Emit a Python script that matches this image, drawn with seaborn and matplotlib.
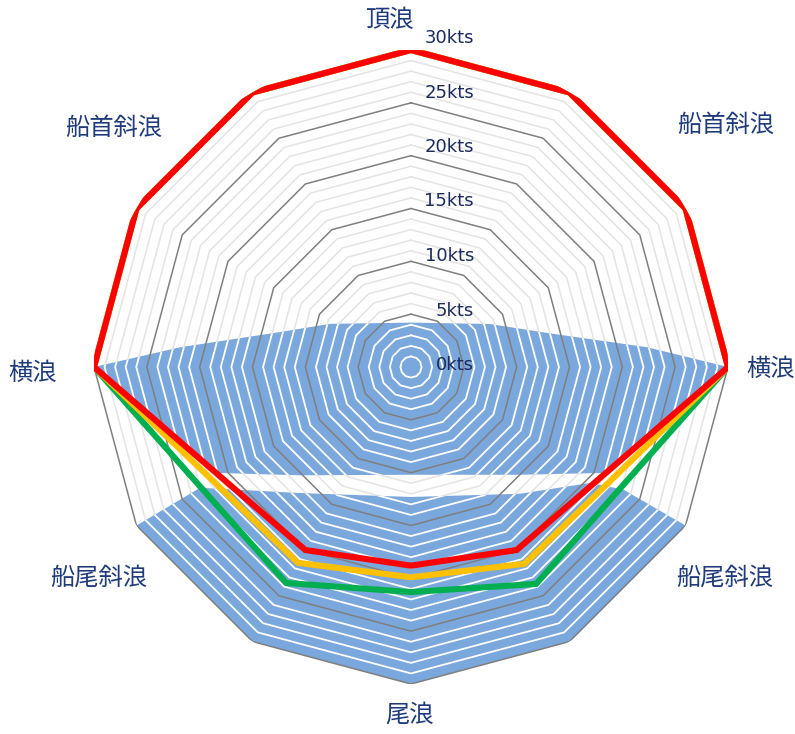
import numpy as np
import pandas as pd
import matplotlib
matplotlib.use("Agg")
import matplotlib.pyplot as plt
import seaborn as sns

# ---------------- data ----------------
angles_deg = [0, 30, 60, 90, 120, 150, 180, 210, 240, 270, 300, 330]
red_kts    = [30, 30, 30, 30, 20.8, 20.0, 18.8, 20.0, 20.8, 30, 30, 30]
yellow_kts = [30, 30, 30, 30, 21.7, 21.5, 19.9, 21.4, 21.6, 30, 30, 30]
green_kts  = [30, 30, 30, 30, 22.9, 23.7, 21.3, 23.6, 22.9, 30, 30, 30]

# zone boundaries (direction in degrees, speed in kts)
upper_zone_deg = [270, 274.9, 285.0, 298.0, 360, 61.4, 76.0, 85.2, 90, 118.5, 134.7, 180, 225.8, 241.5]
upper_zone_kts = [30, 21.9, 12.8, 8.7, 4.2, 8.5, 13.3, 22.4, 30, 21.0, 14.5, 10.2, 14.7, 21.0]
lower_zone_deg = [240, 210, 180, 150, 120, 120.0, 122.9, 139.4, 180, 221.4, 240.2]
lower_zone_kts = [30, 30, 30, 30, 30, 23.2, 20.2, 15.8, 12.3, 15.9, 23.0]

ring_kts = list(range(1, 31))
major_step = 5
tick_labels = ["0kts", "5kts", "10kts", "15kts", "20kts", "25kts", "30kts"]

dir_labels = ["頂浪", "船首斜浪", "横浪", "船尾斜浪", "尾浪", "船尾斜浪", "横浪", "船首斜浪"]

# ---------------- style ----------------
sns.set_style("white")
plt.rcParams['font.family'] = ['Noto Sans CJK JP', 'DejaVu Sans']

W, H = 795, 734
fig = plt.figure(figsize=(W / 100, H / 100), dpi=100)
cx, cy, R = 411, 367, 317
ax = fig.add_axes([(cx - R) / W, (H - cy - R) / H, 2 * R / W, 2 * R / H], projection='polar')
ax.set_theta_zero_location('N')
ax.set_theta_direction(-1)
ax.set_ylim(0, 30)
ax.grid(False)
ax.set_xticks([])
ax.set_yticks([])
ax.spines['polar'].set_visible(False)
ax.set_facecolor('none')

BLUE = '#7aa8dc'
ring_th = np.deg2rad(angles_deg + [360])

# minor rings (light grey on white)
minor = [k for k in ring_kts if k % major_step != 0]
for k in minor:
    ax.plot(ring_th, [k] * len(ring_th), color='#e4e4e4', lw=1.1, zorder=1)

# blue zones + white minor rings clipped inside
for zd, zk in [(upper_zone_deg, upper_zone_kts), (lower_zone_deg, lower_zone_kts)]:
    patch = ax.fill(np.deg2rad(zd), zk, color=BLUE, lw=0, zorder=2)[0]
    for k in minor:
        ln, = ax.plot(ring_th, [k] * len(ring_th), color='white', lw=1.3, zorder=3)
        ln.set_clip_path(patch)

# major rings
for k in ring_kts:
    if k % major_step == 0:
        ax.plot(ring_th, [k] * len(ring_th), color='#7f7f7f', lw=1.1, zorder=4)

# series
rows = []
for name, vals in [("green", green_kts), ("yellow", yellow_kts), ("red", red_kts)]:
    for a, v in zip(angles_deg + [360], vals + [vals[0]]):
        rows.append({"theta": np.deg2rad(a), "kts": v, "series": name})
df = pd.DataFrame(rows)
sns.lineplot(data=df, x="theta", y="kts", hue="series",
             hue_order=["green", "yellow", "red"],
             palette={"green": "#00b050", "yellow": "#ffc000", "red": "#ff0000"},
             sort=False, estimator=None, lw=4.4, legend=False, ax=ax, zorder=6,
             solid_joinstyle='miter')
ax.set_xlabel("")
ax.set_ylabel("")
ax.set_ylim(0, 30)

# radial tick labels
for i, t in enumerate(tick_labels):
    ypx = 365 - 54.5 * i
    fig.text(474 / W, 1 - ypx / H, t, ha='right', va='center', fontsize=13,
             color='#1c2a5c', family=['DejaVu Sans'])

# direction labels (angle deg, radius kts)
label_pos = [(356.5, 32.9), (52.4, 37.6), (90.3, 34.0), (123.9, 35.8),
             (180.3, 32.9), (236.0, 35.7), (269.1, 35.8), (308.9, 36.1)]
for lab, (a, r) in zip(dir_labels, label_pos):
    ax.text(np.deg2rad(a), r, lab, ha='center', va='center', fontsize=17.5,
            color='#1f3b7a', clip_on=False)

fig.savefig("out.png", dpi=100)
